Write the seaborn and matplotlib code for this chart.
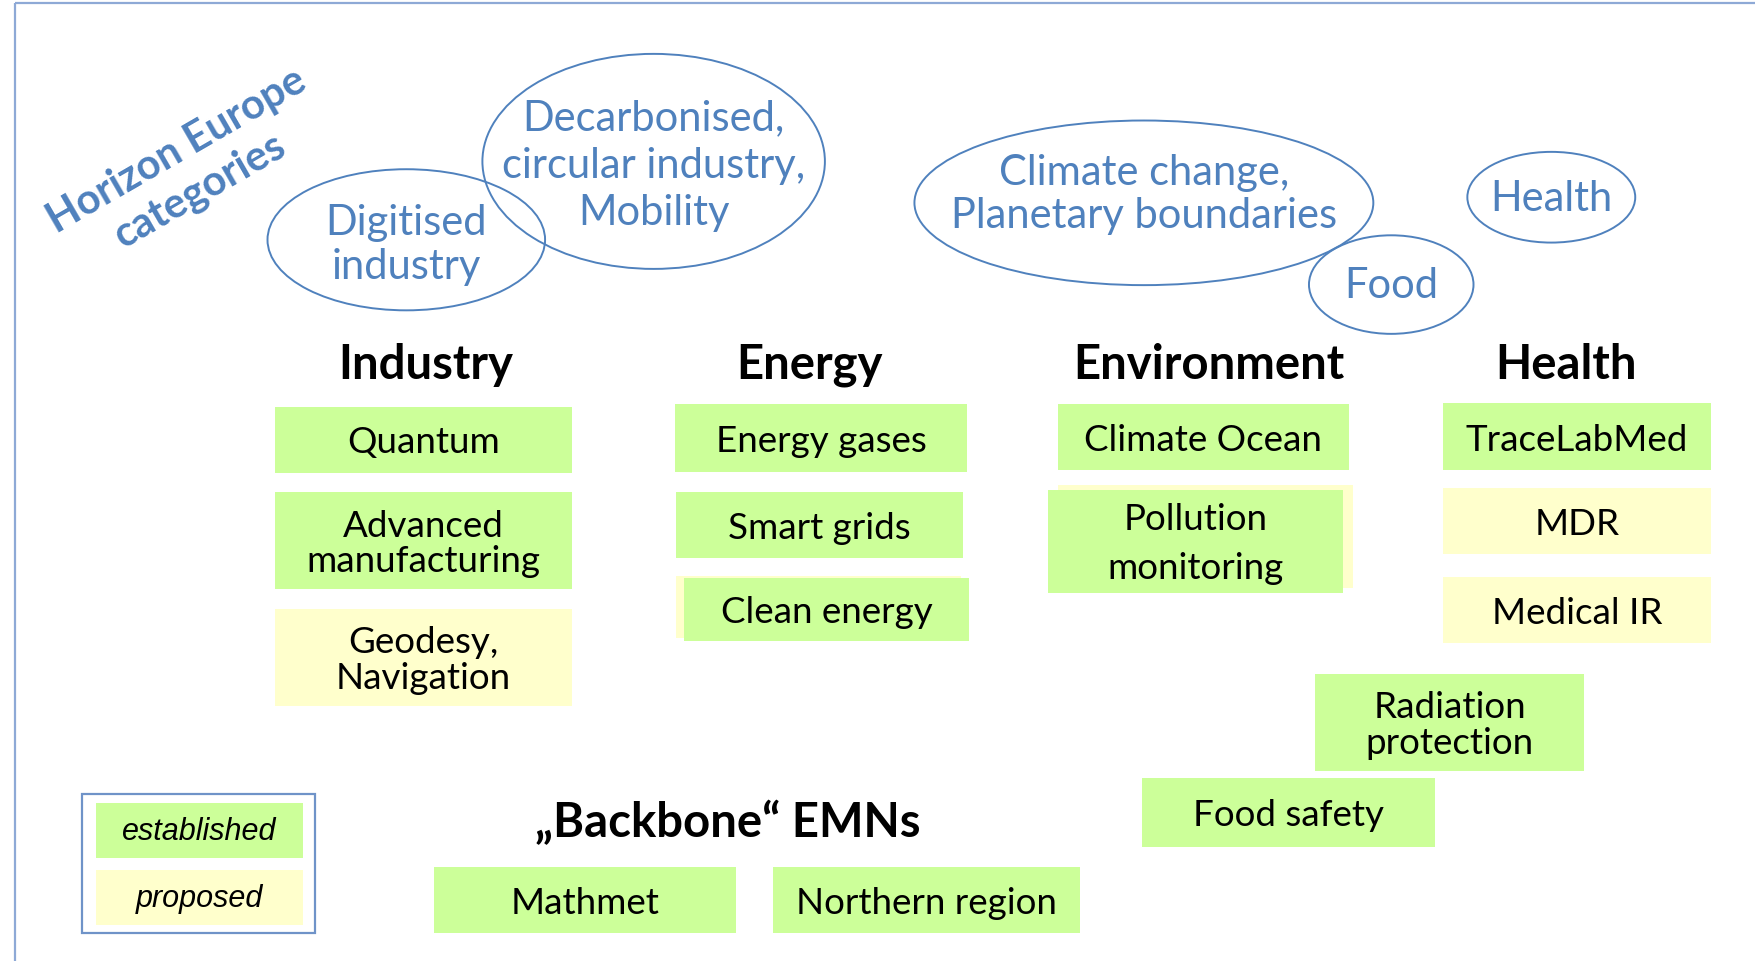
import matplotlib.pyplot as plt
import seaborn as sns
from matplotlib.patches import Ellipse, Rectangle

# --- content ---
horizon_title = "Horizon Europe\ncategories"
horizon_categories = ["Digitised\nindustry", "Decarbonised,\ncircular industry,\nMobility",
                      "Climate change,\nPlanetary boundaries", "Food", "Health"]

columns = ["Industry", "Energy", "Environment", "Health"]
industry_emns = ["Quantum", "Advanced\nmanufacturing", "Geodesy,\nNavigation"]
industry_status = ["established", "established", "proposed"]
energy_emns = ["Energy gases", "Smart grids", "Clean energy"]
energy_status = ["established", "established", "established"]
environment_emns = ["Climate Ocean", "Pollution\nmonitoring"]
environment_status = ["established", "established"]
health_emns = ["TraceLabMed", "MDR", "Medical IR"]
health_status = ["established", "proposed", "proposed"]
cross_emns = ["Radiation\nprotection", "Food safety"]
cross_status = ["established", "established"]

backbone_title = "\u201eBackbone\u201c EMNs"
backbone_emns = ["Mathmet", "Northern region"]
backbone_status = ["established", "established"]

legend_labels = ["established", "proposed"]

# --- styling ---
sns.set_theme(style="white")
fill = {"established": "#CCFF99", "proposed": "#FFFFCC"}
blue = "#4F81BD"
font = ["Lato", "DejaVu Sans"]

# layout, in a 1568 x 859 drawing space (y downwards)
ellipse_xy = [(363, 215, 248, 126), (584, 145, 306, 192), (1022, 182, 410, 147),
              (1243, 255, 147, 88), (1386, 177, 150, 81)]
ellipse_text_dy = [4, 3, -8, 0, 1]
ellipse_gap = [1.2, 1.3, 1.17, 1.0, 1.0]
header_xy = [(380, 326), (723, 326), (1080, 326), (1399, 326)]
boxes = {
    "industry": [(246, 364, 265, 59), (246, 440, 265, 87), (246, 545, 265, 86)],
    "energy": [(603, 362, 261, 60), (604, 440, 256, 59), (611, 517, 255, 56)],
    "environment": [(945, 362, 260, 59), (936, 438, 264, 92)],
    "health": [(1289, 361, 240, 60), (1289, 437, 240, 59), (1289, 516, 240, 59)],
    "cross": [(1175, 603, 240, 86), (1020, 696, 262, 61)],
    "backbone": [(388, 775, 270, 59), (691, 775, 274, 59)],
}
shadow = {("energy", 2): (-7, -2), ("environment", 1): (9, -4)}
line_gap = {("industry", 1): 1.08, ("industry", 2): 1.1, ("environment", 1): 1.6,
            ("cross", 0): 1.1}

fig = plt.figure(figsize=(17.55, 9.62), dpi=100)
ax = fig.add_axes([0, 0, 1, 1])
ax.set_xlim(0, 1568)
ax.set_ylim(859, 0)
ax.axis("off")

# slide frame
ax.add_patch(Rectangle((13, 4), 1600, 900, fill=False, ec="#8EA9D6", lw=1.6))

# Horizon Europe categories
ax.text(168, 152, horizon_title, rotation=30, ha="center", va="center", color=blue,
        fontsize=30, fontweight="bold", family=font, linespacing=1.25)
for (cx, cy, w, h), label, gap, dy in zip(ellipse_xy, horizon_categories, ellipse_gap,
                                          ellipse_text_dy):
    ax.add_patch(Ellipse((cx, cy), w, h, fill=False, ec=blue, lw=1.4))
    ax.text(cx, cy + dy, label, ha="center", va="center", color=blue, fontsize=30,
            family=font, linespacing=gap)

for (hx, hy), name in zip(header_xy, columns):
    ax.text(hx, hy, name, ha="center", va="center", fontsize=34, fontweight="bold",
            family=font, color="black")
ax.text(650, 734, backbone_title, ha="center", va="center", fontsize=34,
        fontweight="bold", family=font, color="black")

groups = {
    "industry": (industry_emns, industry_status),
    "energy": (energy_emns, energy_status),
    "environment": (environment_emns, environment_status),
    "health": (health_emns, health_status),
    "cross": (cross_emns, cross_status),
    "backbone": (backbone_emns, backbone_status),
}
for key, (labels, status) in groups.items():
    for i, (label, st) in enumerate(zip(labels, status)):
        x, y, w, h = boxes[key][i]
        if (key, i) in shadow:
            dx, dy = shadow[key, i]
            ax.add_patch(Rectangle((x + dx, y + dy), w, h, fc=fill["proposed"], ec="none"))
        ax.add_patch(Rectangle((x, y), w, h, fc=fill[st], ec="none"))
        ax.text(x + w / 2, y + h / 2 + 2, label, ha="center", va="center", fontsize=26.5,
                family=font, color="black", linespacing=line_gap.get((key, i), 1.0))

# legend
ax.add_patch(Rectangle((73, 710), 208, 124, fill=False, ec="#6F93C8", lw=1.6))
for (y, lab) in zip([718, 778], legend_labels):
    ax.add_patch(Rectangle((86, y), 185, 49, fc=fill[lab], ec="none"))
    ax.text(178, y + 25, lab, ha="center", va="center", fontsize=22, style="italic",
            family=["Liberation Sans", "DejaVu Sans"], color="black")

fig.savefig("out.png", dpi=100, facecolor="white")
